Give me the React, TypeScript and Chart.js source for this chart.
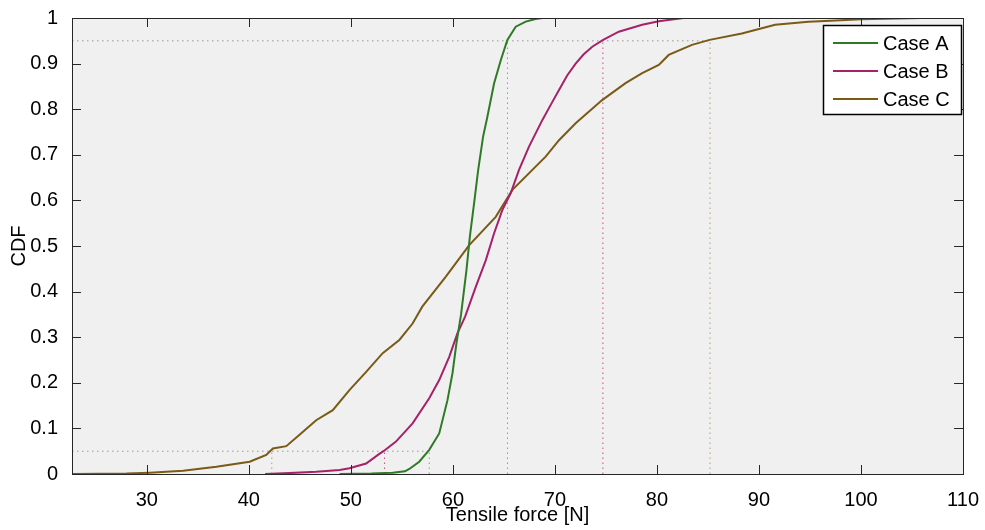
import React, { useEffect, useRef } from 'react';
import { Chart, registerables } from 'chart.js';

Chart.register(...registerables);

const seriesNames = ['Case A', 'Case B', 'Case C'];
const seriesColors = ['#2f7a26', '#a5226a', '#7a5a17'];
const refColors = ['rgba(80,150,70,0.75)', 'rgba(190,40,110,0.8)', 'rgba(160,130,80,0.75)'];

const caseAx = [48.9, 52.0, 54.1, 55.3, 55.73, 56.7, 57.68, 58.66, 59.47, 59.96, 60.35, 60.8, 61.33, 61.66, 62.08, 62.48, 62.96, 63.35, 64.04, 64.7, 65.34, 66.16, 67.14, 68.1, 68.8];
const caseAy = [0, 0.001, 0.003, 0.006, 0.011, 0.027, 0.053, 0.089, 0.162, 0.221, 0.287, 0.35, 0.447, 0.52, 0.594, 0.667, 0.74, 0.78, 0.857, 0.908, 0.952, 0.981, 0.992, 0.998, 1.0];

const caseBx = [41.6, 44.0, 46.6, 48.9, 49.86, 51.5, 52.79, 53.2, 54.42, 56.05, 57.68, 58.66, 59.64, 60.45, 61.2, 62.25, 63.23, 64.04, 64.85, 65.67, 66.48, 67.46, 68.76, 69.6, 70.4, 71.2, 72.03, 72.8, 73.66, 74.73, 76.26, 78.55, 80.18, 82.6];
const caseBy = [0, 0.002, 0.005, 0.009, 0.0125, 0.023, 0.044, 0.05, 0.071, 0.111, 0.166, 0.206, 0.257, 0.309, 0.345, 0.411, 0.469, 0.528, 0.579, 0.616, 0.667, 0.718, 0.776, 0.81, 0.842, 0.874, 0.9, 0.92, 0.937, 0.952, 0.97, 0.985, 0.993, 1.0];

const caseCx = [22.7, 28.0, 30.3, 33.56, 36.82, 40.08, 41.71, 42.36, 43.67, 44.97, 46.6, 48.23, 49.86, 51.5, 53.12, 54.75, 56.05, 57.0, 59.31, 61.6, 64.2, 65.83, 69.09, 70.4, 72.03, 74.63, 76.92, 78.55, 80.18, 81.15, 83.43, 85.16, 88.32, 91.58, 94.84, 97.0, 100.0, 105.9];
const caseCy = [0, 0.001, 0.003, 0.007, 0.016, 0.027, 0.042, 0.056, 0.061, 0.086, 0.118, 0.14, 0.184, 0.224, 0.265, 0.294, 0.33, 0.367, 0.433, 0.502, 0.564, 0.623, 0.696, 0.732, 0.769, 0.82, 0.857, 0.879, 0.897, 0.919, 0.941, 0.952, 0.966, 0.985, 0.992, 0.994, 0.997, 1.0];

// 5% and 95% quantiles of each case (A, B, C)
const q05 = [57.68, 53.3, 42.25];
const q95 = [65.35, 74.7, 85.2];
const lowLevel = 0.05;
const highLevel = 0.95;

const xMin = 22.67;
const xMax = 110;
const xTicks = [30, 40, 50, 60, 70, 80, 90, 100, 110];
const yTicks = [0, 0.1, 0.2, 0.3, 0.4, 0.5, 0.6, 0.7, 0.8, 0.9, 1];
const yTickLabels = ['0', '0.1', '0.2', '0.3', '0.4', '0.5', '0.6', '0.7', '0.8', '0.9', '1'];

const FONT = '"Liberation Sans", Arial, Helvetica, sans-serif';

const zip = (xs: number[], ys: number[]) => xs.map((x, i) => ({ x, y: ys[i] }));

const framePlugin = {
  id: 'matlabFrame',
  beforeDraw(chart: any) {
    const { ctx, chartArea: a } = chart;
    ctx.save();
    ctx.fillStyle = '#f0f0f0';
    ctx.fillRect(a.left, a.top, a.right - a.left, a.bottom - a.top);
    ctx.restore();
  },
  afterDatasetsDraw(chart: any) {
    const { ctx, chartArea: a, scales } = chart;
    const tl = 9;
    ctx.save();
    ctx.strokeStyle = '#262626';
    ctx.lineWidth = 1;
    ctx.beginPath();
    xTicks.forEach((v) => {
      const px = Math.round(scales.x.getPixelForValue(v)) + 0.5;
      ctx.moveTo(px, a.bottom);
      ctx.lineTo(px, a.bottom - tl);
      ctx.moveTo(px, a.top);
      ctx.lineTo(px, a.top + tl);
    });
    yTicks.forEach((v) => {
      const py = Math.round(scales.y.getPixelForValue(v)) + 0.5;
      ctx.moveTo(a.left, py);
      ctx.lineTo(a.left + tl, py);
      ctx.moveTo(a.right, py);
      ctx.lineTo(a.right - tl, py);
    });
    ctx.stroke();
    ctx.strokeRect(Math.round(a.left) + 0.5, Math.round(a.top) + 0.5, Math.round(a.right - a.left), Math.round(a.bottom - a.top));

    // legend
    const lx = 823, ly = 25, lw = 138, lh = 89;
    ctx.fillStyle = '#ffffff';
    ctx.fillRect(lx, ly, lw, lh);
    ctx.strokeStyle = '#000000';
    ctx.lineWidth = 1.5;
    ctx.strokeRect(lx + 0.5, ly + 0.5, lw, lh);
    ctx.font = '20px ' + FONT;
    ctx.textBaseline = 'middle';
    ctx.textAlign = 'left';
    seriesNames.forEach((name, i) => {
      const y = ly + 18 + i * 28;
      ctx.strokeStyle = seriesColors[i];
      ctx.lineWidth = 2;
      ctx.beginPath();
      ctx.moveTo(833, y);
      ctx.lineTo(878, y);
      ctx.stroke();
      ctx.fillStyle = '#000';
      ctx.fillText(name, 883, y + 1);
    });
    ctx.restore();
  },
};

export default function App() {
  const ref = useRef<HTMLCanvasElement | null>(null);

  useEffect(() => {
    if (!ref.current) return;
    const curves = [zip(caseAx, caseAy), zip(caseBx, caseBy), zip(caseCx, caseCy)].map((d, i) => ({
      label: seriesNames[i],
      data: d,
      borderColor: seriesColors[i],
      backgroundColor: seriesColors[i],
      borderWidth: 2,
      pointRadius: 0,
      tension: 0,
      fill: false,
      order: 0,
    }));
    const dotted = (data: any[], color: string) => ({
      label: '',
      data,
      borderColor: color,
      borderWidth: 1,
      borderDash: [1.5, 3.5],
      pointRadius: 0,
      fill: false,
      order: 1,
    });
    const refs = [
      dotted([{ x: xMin, y: lowLevel }, { x: Math.max(...q05), y: lowLevel }], 'rgba(150,120,140,0.8)'),
      dotted([{ x: xMin, y: highLevel }, { x: Math.max(...q95), y: highLevel }], 'rgba(130,130,130,0.8)'),
      ...q05.map((q, i) => dotted([{ x: q, y: 0 }, { x: q, y: lowLevel }], refColors[i])),
      ...q95.map((q, i) => dotted([{ x: q, y: 0 }, { x: q, y: highLevel }], refColors[i])),
    ];

    const chart = new Chart(ref.current, {
      type: 'line',
      data: { datasets: [...curves, ...refs] as any },
      options: {
        animation: false,
        responsive: false,
        devicePixelRatio: 1,
        parsing: false as any,
        layout: { padding: { left: 0, top: 18, right: 20, bottom: 0 } },
        plugins: { legend: { display: false }, tooltip: { enabled: false } },
        scales: {
          x: {
            type: 'linear',
            min: xMin,
            max: xMax,
            grid: { display: false },
            border: { display: false },
            afterBuildTicks: (s: any) => {
              s.ticks = xTicks.map((v) => ({ value: v }));
            },
            afterFit: (s: any) => {
              s.height = 56;
            },
            ticks: {
              padding: 6,
              color: '#000',
              autoSkip: false,
              maxRotation: 0,
              font: { size: 20, family: FONT },
              callback: (v: any) => String(v),
            },
            title: {
              display: true,
              text: 'Tensile force [N]',
              color: '#000',
              font: { size: 20, family: FONT },
              padding: { top: 3, bottom: 3 },
            },
          },
          y: {
            type: 'linear',
            min: 0,
            max: 1,
            grid: { display: false },
            border: { display: false },
            afterBuildTicks: (s: any) => {
              s.ticks = yTicks.map((v) => ({ value: v }));
            },
            afterFit: (s: any) => {
              s.width = 72;
            },
            ticks: {
              padding: 6,
              color: '#000',
              autoSkip: false,
              font: { size: 20, family: FONT },
              callback: (_v: any, i: number) => yTickLabels[i],
            },
            title: {
              display: true,
              text: 'CDF',
              color: '#000',
              font: { size: 20, family: FONT },
              padding: { top: 7.5, bottom: 7.5 },
            },
          },
        },
      },
      plugins: [framePlugin],
    });
    return () => chart.destroy();
  }, []);

  return (
    <div style={{ position: 'fixed', left: 0, top: 0, width: 985, height: 530, background: '#fff' }}>
      <canvas ref={ref} width={985} height={530} style={{ display: 'block', width: 985, height: 530 }} />
    </div>
  );
}
